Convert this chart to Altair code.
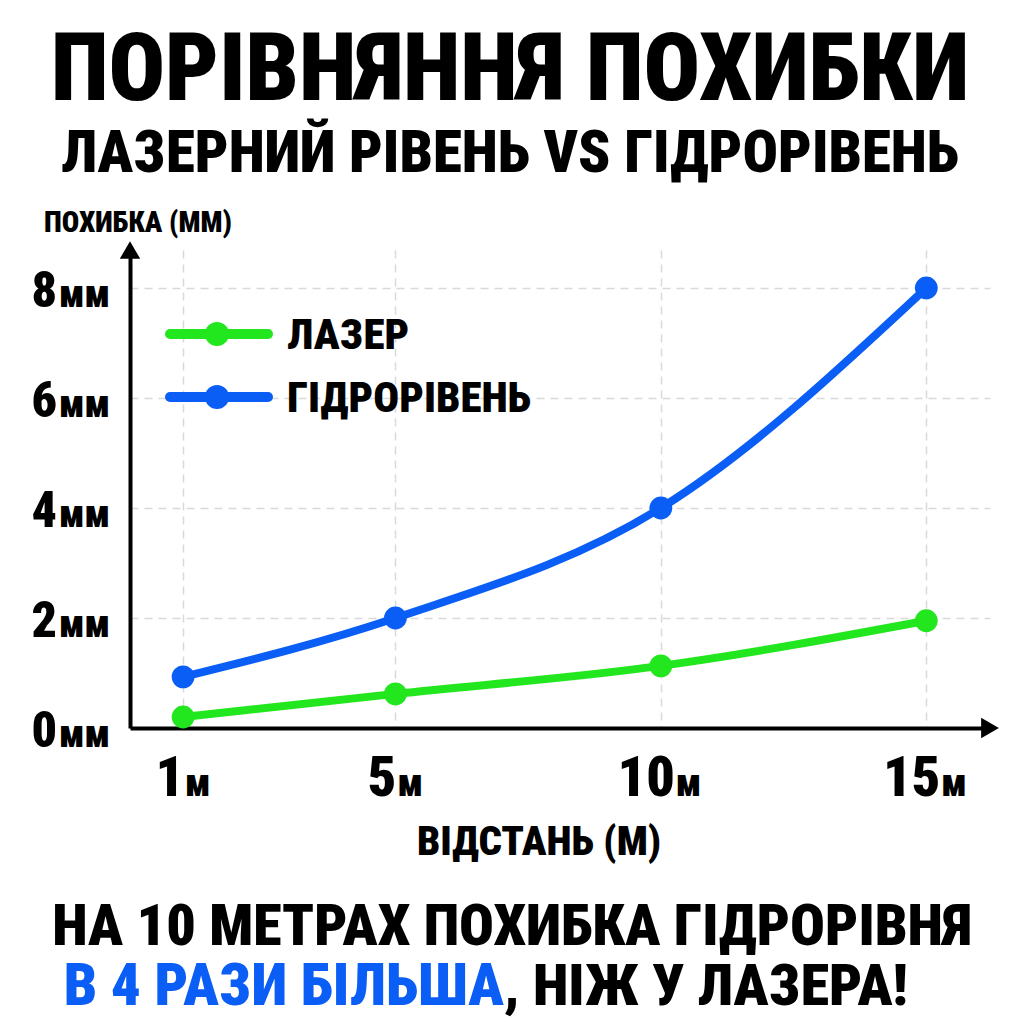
import altair as alt
import pandas as pd

# ---------------- data ----------------
distances = [1, 5, 10, 15]
laser = [0.2, 0.62, 1.13, 1.95]
hydro = [0.93, 2.0, 4.0, 8.0]
series_names = ["ЛАЗЕР", "ГІДРОРІВЕНЬ"]
colors = ["#22e61e", "#0a5ef5"]
y_ticks = [0, 2, 4, 6, 8]
x_ticks = [1, 5, 10, 15]
title_lines = ["ПОРІВНЯННЯ ПОХИБКИ", "ЛАЗЕРНИЙ РІВЕНЬ VS ГІДРОРІВЕНЬ"]
y_title = "ПОХИБКА (ММ)"
x_title = "ВІДСТАНЬ (М)"
footer_line1 = "НА 10 МЕТРАХ ПОХИБКА ГІДРОРІВНЯ"
footer_blue = "В 4 РАЗИ БІЛЬША"
footer_black = ", НІЖ У ЛАЗЕРА!"
y_unit = "мм"
x_unit = "м"

FONT = "Roboto Condensed, Open Sans Condensed, DejaVu Sans Condensed, sans-serif"
WEIGHT = 900
W, H = 860, 478
X_MAX, Y_MAX = 16.2, 8.69
PX_PER_X = W / X_MAX

df = pd.DataFrame({
    "d": distances * 2,
    "v": laser + hydro,
    "s": [series_names[0]] * len(distances) + [series_names[1]] * len(distances),
})

x_scale = alt.Scale(domain=[0, X_MAX], nice=False, zero=False)
y_scale = alt.Scale(domain=[0, Y_MAX], nice=False, zero=False)
color = alt.Color("s:N", scale=alt.Scale(domain=series_names, range=colors), legend=None)

grid_axis = dict(domain=True, domainColor="black", domainWidth=4, ticks=False,
                 labels=False, grid=True, gridColor="#d9d9d9", gridDash=[8, 6],
                 gridWidth=1.5, title=None)
x_axis = alt.Axis(values=x_ticks, **grid_axis)
y_axis = alt.Axis(values=[2, 4, 6, 8], **grid_axis)

lines = alt.Chart(df).mark_line(strokeWidth=8, interpolate="monotone", strokeCap="round").encode(
    x=alt.X("d:Q", scale=x_scale, axis=x_axis),
    y=alt.Y("v:Q", scale=y_scale, axis=y_axis),
    color=color,
    detail="s:N",
)

points = alt.Chart(df).mark_circle(size=520, opacity=1).encode(
    x=alt.X("d:Q", scale=x_scale, axis=x_axis),
    y=alt.Y("v:Q", scale=y_scale, axis=y_axis),
    color=color,
)

arrows_df = pd.DataFrame({"d": [X_MAX, 0], "v": [0, Y_MAX], "shape": ["triangle-right", "triangle-up"]})
arrows = alt.Chart(arrows_df).mark_point(filled=True, color="black", opacity=1, size=420).encode(
    x=alt.X("d:Q", scale=x_scale, axis=x_axis),
    y=alt.Y("v:Q", scale=y_scale, axis=y_axis),
    shape=alt.Shape("shape:N", scale=None),
)

# y tick labels (number + unit)
ydf = pd.DataFrame({"v": y_ticks, "num": [str(t) for t in y_ticks]})
y_num = alt.Chart(ydf).mark_text(align="right", baseline="alphabetic", font=FONT, fontWeight=WEIGHT,
                                  fontSize=50, dy=19, color="black").encode(
    y=alt.Y("v:Q", scale=y_scale, axis=y_axis), x=alt.value(-73), text="num:N")
y_un = alt.Chart(ydf).mark_text(align="left", baseline="alphabetic", font=FONT, fontWeight=WEIGHT,
                                 fontSize=38, dy=19, color="black").encode(
    y=alt.Y("v:Q", scale=y_scale, axis=y_axis), x=alt.value(-71), text=alt.value(y_unit))

# x tick labels (number + unit), split point shifted so the pair is centred on the tick
xdf = pd.DataFrame({"d": x_ticks, "num": [str(t) for t in x_ticks]})
split = f"datum.d + (length(datum.num) * 26 - 24) / 2 / {PX_PER_X}"
x_num = alt.Chart(xdf).transform_calculate(sp=split).mark_text(
    align="right", baseline="alphabetic", font=FONT, fontWeight=WEIGHT, fontSize=56, color="black").encode(
    x=alt.X("sp:Q", scale=x_scale, axis=x_axis), y=alt.value(546), text="num:N")
x_un = alt.Chart(xdf).transform_calculate(sp=split).mark_text(
    align="left", baseline="alphabetic", font=FONT, fontWeight=WEIGHT, fontSize=38, dx=1, color="black").encode(
    x=alt.X("sp:Q", scale=x_scale, axis=x_axis), y=alt.value(546), text=alt.value(x_unit))


def text_layer(txt, x, y, size, col="black", align="center"):
    return alt.Chart(pd.DataFrame({"t": [txt]})).mark_text(
        align=align, baseline="alphabetic", font=FONT, fontWeight=WEIGHT, fontSize=size, color=col
    ).encode(text="t:N", x=alt.value(x), y=alt.value(y))


texts = [
    text_layer(title_lines[0], 380, -150, 94),
    text_layer(title_lines[1], 380, -78, 59),
    text_layer(y_title, -86, -18, 29, align="left"),
    text_layer(x_title, 409, 605, 41),
    text_layer(footer_line1, 382, 695, 58),
    text_layer(footer_blue, 374, 755, 59, col=colors[1], align="right"),
    text_layer(footer_black, 374, 755, 58, align="left"),
]

# legend
legend_layers = []
for i, (name, col) in enumerate(zip(series_names, colors)):
    ly = 84 + i * 63
    ldf = pd.DataFrame({"s": [name]})
    legend_layers.append(alt.Chart(ldf).mark_rule(strokeWidth=10, strokeCap="round", color=col).encode(
        x=alt.value(40), x2=alt.value(138), y=alt.value(ly)))
    legend_layers.append(alt.Chart(ldf).mark_circle(size=580, opacity=1, color=col).encode(
        x=alt.value(87), y=alt.value(ly)))
    legend_layers.append(alt.Chart(ldf).mark_text(align="left", baseline="middle", font=FONT,
                                                  fontWeight=WEIGHT, fontSize=43, color="black").encode(
        x=alt.value(157), y=alt.value(ly + 2), text="s:N"))

chart = alt.layer(lines, points, arrows, y_num, y_un, x_num, x_un, *texts, *legend_layers).properties(
    width=W, height=H,
    autosize=alt.AutoSizeParams(type="none"),
    padding={"left": 130, "top": 250, "right": 34, "bottom": 296},
    background="white",
).configure_view(stroke=None)

chart.save("out.html", embed_options={"renderer": "svg", "actions": False})
